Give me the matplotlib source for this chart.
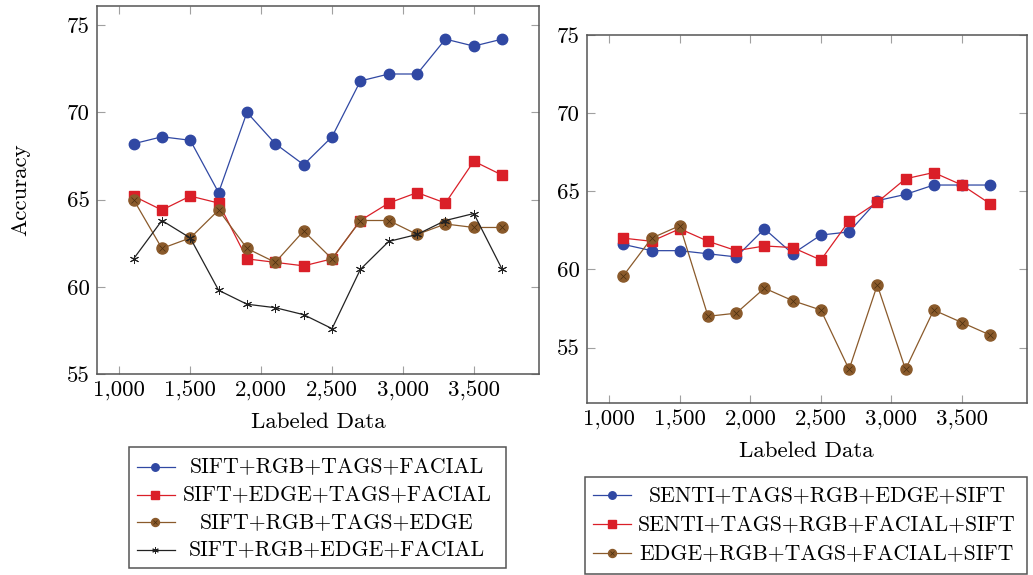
import matplotlib
matplotlib.use("Agg")
import matplotlib.pyplot as plt
from matplotlib.ticker import FuncFormatter, FixedLocator
from matplotlib.patches import Rectangle

plt.rcParams['font.family'] = ['cmr10', 'DejaVu Serif']
plt.rcParams['axes.formatter.use_mathtext'] = True

labeled = [1100, 1300, 1500, 1700, 1900, 2100, 2300, 2500, 2700, 2900, 3100, 3300, 3500, 3700]

# left panel
left_labels = ["SIFT+RGB+TAGS+FACIAL", "SIFT+EDGE+TAGS+FACIAL",
               "SIFT+RGB+TAGS+EDGE", "SIFT+RGB+EDGE+FACIAL"]
sift_rgb_tags_facial = [68.2, 68.6, 68.4, 65.4, 70.0, 68.2, 67.0, 68.6, 71.8, 72.2, 72.2, 74.2, 73.8, 74.2]
sift_edge_tags_facial = [65.2, 64.4, 65.2, 64.8, 61.6, 61.4, 61.2, 61.6, 63.8, 64.8, 65.4, 64.8, 67.2, 66.4]
sift_rgb_tags_edge = [65.0, 62.2, 62.8, 64.4, 62.2, 61.4, 63.2, 61.6, 63.8, 63.8, 63.0, 63.6, 63.4, 63.4]
sift_rgb_edge_facial = [61.6, 63.8, 62.8, 59.8, 59.0, 58.8, 58.4, 57.6, 61.0, 62.6, 63.0, 63.8, 64.2, 61.0]

# right panel
right_labels = ["SENTI+TAGS+RGB+EDGE+SIFT", "SENTI+TAGS+RGB+FACIAL+SIFT",
                "EDGE+RGB+TAGS+FACIAL+SIFT"]
senti_edge = [61.6, 61.2, 61.2, 61.0, 60.8, 62.6, 61.0, 62.2, 62.4, 64.4, 64.8, 65.4, 65.4, 65.4]
senti_facial = [62.0, 61.8, 62.6, 61.8, 61.2, 61.5, 61.4, 60.6, 63.1, 64.3, 65.8, 66.2, 65.4, 64.2]
edge_facial = [59.6, 62.0, 62.8, 57.0, 57.2, 58.8, 58.0, 57.4, 53.6, 59.0, 53.6, 57.4, 56.6, 55.8]

xticks = [1000, 1500, 2000, 2500, 3000, 3500]
yticks = [55, 60, 65, 70, 75]

BLUE = "#3048a3"
RED = "#da1f28"
BROWN = "#8a5a2b"
BLACK = "#222222"

styles = {
    "blue": dict(color=BLUE, marker="o", ms=7.5, mfc=BLUE, mec=BLUE),
    "red": dict(color=RED, marker="s", ms=7.5, mfc=RED, mec=RED),
    "brown": dict(color=BROWN, marker="o", ms=8, mfc=BROWN, mec=BROWN),
    "black": dict(color=BLACK, marker=(6, 2, 0), ms=6.5, mfc=BLACK, mec=BLACK, mew=0.7),
}


def draw(ax, x, y, key, scale=1.0, markevery=None):
    st = dict(styles[key])
    st["ms"] = st["ms"] * scale
    ax.plot(x, y, lw=0.9, markevery=markevery, **st)
    if key == "brown":
        ax.plot(x, y, ls="none", marker="x", ms=4.5 * scale, mec="#4a2e10",
                mew=0.5, markevery=markevery)


def style_axes(ax, ylim):
    ax.set_xlim(840, 3960)
    ax.set_ylim(*ylim)
    ax.xaxis.set_major_locator(FixedLocator(xticks))
    ax.yaxis.set_major_locator(FixedLocator(yticks))
    ax.xaxis.set_major_formatter(FuncFormatter(lambda v, p: f"{v:,.0f}"))
    ax.yaxis.set_major_formatter(FuncFormatter(lambda v, p: f"{v:.0f}"))
    ax.tick_params(direction="in", length=6, width=0.8, color="#a0a0a0",
                   top=True, right=True, labelsize=16.5, pad=5)
    for s in ax.spines.values():
        s.set_color("#555555")
        s.set_linewidth(1.1)
    ax.set_xlabel("Labeled Data", fontsize=16.5, labelpad=8)


def legend_box(fig, rect, labels, keys, text_cx, rows_y, sample_x):
    lax = fig.add_axes(rect)
    lax.set_xlim(0, 1)
    lax.set_ylim(0, 1)
    lax.axis("off")
    lax.add_patch(Rectangle((0, 0), 1, 1, transform=lax.transAxes, fill=False,
                            ec="#555555", lw=1.1, clip_on=False))
    for lab, key, yy in zip(labels, keys, rows_y):
        draw(lax, sample_x, [yy, yy, yy], key, scale=0.72, markevery=[1])
        lax.text(text_cx, yy, lab, ha="center", va="center", fontsize=15.7)


fig = plt.figure(figsize=(10.33, 5.75), dpi=100)

ax1 = fig.add_axes([0.0936, 0.3496, 0.4282, 0.640])
draw(ax1, labeled, sift_rgb_tags_facial, "blue")
draw(ax1, labeled, sift_edge_tags_facial, "red")
draw(ax1, labeled, sift_rgb_tags_edge, "brown")
draw(ax1, labeled, sift_rgb_edge_facial, "black")
style_axes(ax1, (55, 76.1))
ax1.set_ylabel("Accuracy", fontsize=16.5, labelpad=26)

ax2 = fig.add_axes([0.568, 0.2991, 0.426, 0.640])
draw(ax2, labeled, senti_edge, "blue")
draw(ax2, labeled, senti_facial, "red")
draw(ax2, labeled, edge_facial, "brown")
style_axes(ax2, (51.45, 75))

# legends (pixel boxes converted to figure fractions)
W, H = 1033, 575
x0, x1, y0, y1 = 129, 506, 447, 568
legend_box(fig, [x0 / W, (H - y1) / H, (x1 - x0) / W, (y1 - y0) / H],
           left_labels, ["blue", "red", "brown", "black"],
           (337 - x0) / (x1 - x0),
           [(y1 - yy) / (y1 - y0) for yy in [466.5, 494.5, 522, 549.5]],
           [(137 - x0) / (x1 - x0), (155 - x0) / (x1 - x0), (175 - x0) / (x1 - x0)])

x0, x1, y0, y1 = 585, 1027, 477, 574
legend_box(fig, [x0 / W, (H - y1) / H, (x1 - x0) / W, (y1 - y0) / H],
           right_labels, ["blue", "red", "brown"],
           (827 - x0) / (x1 - x0),
           [(y1 - yy) / (y1 - y0) for yy in [495, 524, 553]],
           [(593 - x0) / (x1 - x0), (612 - x0) / (x1 - x0), (631 - x0) / (x1 - x0)])

fig.savefig("out.png", dpi=100)
